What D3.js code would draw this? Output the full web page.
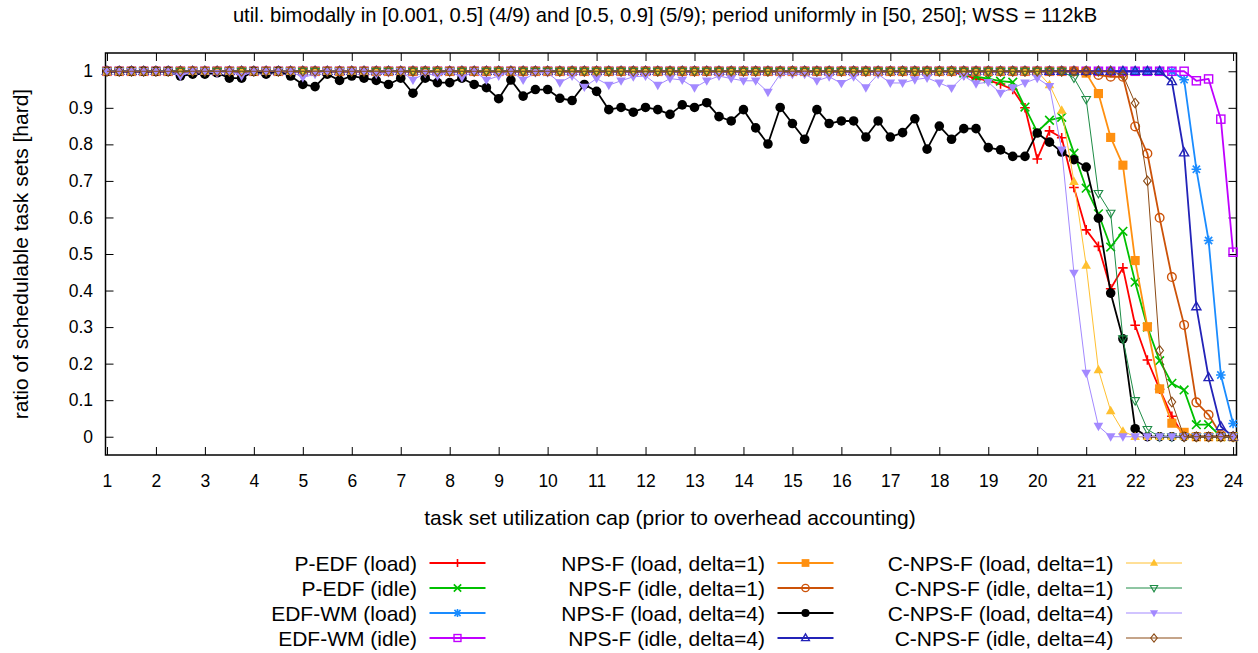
<!DOCTYPE html>
<html><head><meta charset="utf-8">
<script src="https://cdn.jsdelivr.net/npm/d3@7"></script>
<style>
body{margin:0;background:#fff}
svg{display:block}
text{font-family:"Liberation Sans",Arial,Helvetica,sans-serif;fill:#000}
</style>
</head><body>
<svg id="chart" width="1258" height="653"></svg>
<script>
// ---------- data ----------
const titleText = "util. bimodally in [0.001, 0.5] (4/9) and [0.5, 0.9] (5/9); period uniformly in [50, 250]; WSS = 112kB";
const xLabelText = "task set utilization cap (prior to overhead accounting)";
const yLabelText = "ratio of schedulable task sets [hard]";

const xTicks = [1,2,3,4,5,6,7,8,9,10,11,12,13,14,15,16,17,18,19,20,21,22,23,24];
const yTicks = [0,0.1,0.2,0.3,0.4,0.5,0.6,0.7,0.8,0.9,1];

const utilCaps = [
 1,1.25,1.5,1.75,2,2.25,2.5,2.75,3,3.25,
 3.5,3.75,4,4.25,4.5,4.75,5,5.25,5.5,5.75,
 6,6.25,6.5,6.75,7,7.25,7.5,7.75,8,8.25,
 8.5,8.75,9,9.25,9.5,9.75,10,10.25,10.5,10.75,
 11,11.25,11.5,11.75,12,12.25,12.5,12.75,13,13.25,
 13.5,13.75,14,14.25,14.5,14.75,15,15.25,15.5,15.75,
 16,16.25,16.5,16.75,17,17.25,17.5,17.75,18,18.25,
 18.5,18.75,19,19.25,19.5,19.75,20,20.25,20.5,20.75,
 21,21.25,21.5,21.75,22,22.25,22.5,22.75,23,23.25,
 23.5,23.75,24];

const pEdfLoad = [
 1,1,1,1,1,1,1,1,1,1, 1,1,1,1,1,1,1,1,1,1, 1,1,1,1,1,1,1,1,1,1,
 1,1,1,1,1,1,1,1,1,1, 1,1,1,1,1,1,1,1,1,1, 1,1,1,1,1,1,1,1,1,1,
 1,1,1,1,1,1,1,1,1,1,
 0.99,0.98,0.975,0.965,0.95,0.90,0.76,0.837,0.818,0.682,
 0.566,0.521,0.405,0.462,0.305,0.21,0.13,0.056,0,0,
 0,0,0];
const pEdfIdle = [
 1,1,1,1,1,1,1,1,1,1, 1,1,1,1,1,1,1,1,1,1, 1,1,1,1,1,1,1,1,1,1,
 1,1,1,1,1,1,1,1,1,1, 1,1,1,1,1,1,1,1,1,1, 1,1,1,1,1,1,1,1,1,1,
 1,1,1,1,1,1,1,1,1,1,
 0.995,0.985,0.98,0.973,0.97,0.902,0.834,0.866,0.874,0.776,
 0.68,0.61,0.519,0.562,0.423,0.30,0.208,0.146,0.128,0.033,
 0.033,0,0];
const edfWmLoad = [
 1,1,1,1,1,1,1,1,1,1, 1,1,1,1,1,1,1,1,1,1, 1,1,1,1,1,1,1,1,1,1,
 1,1,1,1,1,1,1,1,1,1, 1,1,1,1,1,1,1,1,1,1, 1,1,1,1,1,1,1,1,1,1,
 1,1,1,1,1,1,1,1,1,1, 1,1,1,1,1,1,1,1,1,1,
 1,1,1,1,1,1,1,1,0.977,0.732,
 0.537,0.169,0.036];
const edfWmIdle = [
 1,1,1,1,1,1,1,1,1,1, 1,1,1,1,1,1,1,1,1,1, 1,1,1,1,1,1,1,1,1,1,
 1,1,1,1,1,1,1,1,1,1, 1,1,1,1,1,1,1,1,1,1, 1,1,1,1,1,1,1,1,1,1,
 1,1,1,1,1,1,1,1,1,1, 1,1,1,1,1,1,1,1,1,1,
 1,1,1,1,1,1,1,1,1,0.974,
 0.979,0.869,0.505];
const npsfLoad1 = [
 1,1,1,1,1,1,1,1,1,1, 1,1,1,1,1,1,1,1,1,1, 1,1,1,1,1,1,1,1,1,1,
 1,1,1,1,1,1,1,1,1,1, 1,1,1,1,1,1,1,1,1,1, 1,1,1,1,1,1,1,1,1,1,
 1,1,1,1,1,1,1,1,1,1, 1,1,1,1,1,1,1,1,1,1,
 0.995,0.939,0.819,0.743,0.482,0.301,0.131,0.037,0.012,0,
 0,0,0];
const npsfIdle1 = [
 1,1,1,1,1,1,1,1,1,1, 1,1,1,1,1,1,1,1,1,1, 1,1,1,1,1,1,1,1,1,1,
 1,1,1,1,1,1,1,1,1,1, 1,1,1,1,1,1,1,1,1,1, 1,1,1,1,1,1,1,1,1,1,
 1,1,1,1,1,1,1,1,1,1, 1,1,1,1,1,1,1,1,1,1,
 1,0.99,0.985,0.985,0.849,0.775,0.599,0.437,0.306,0.094,
 0.06,0.005,0];
const npsfLoad4 = [
 1,1,1,1,1,1,0.987,0.992,0.992,0.996,
 0.981,0.981,1,0.992,1,0.987,0.964,0.958,0.992,0.975,
 0.987,0.981,0.975,0.964,0.981,0.94,0.981,0.969,0.969,0.981,
 0.964,0.955,0.925,0.976,0.932,0.95,0.95,0.926,0.92,0.964,
 0.945,0.895,0.901,0.888,0.901,0.895,0.882,0.908,0.901,0.914,
 0.876,0.864,0.895,0.845,0.801,0.901,0.857,0.814,0.895,0.857,
 0.864,0.864,0.82,0.864,0.82,0.832,0.87,0.787,0.85,0.814,
 0.843,0.843,0.791,0.785,0.767,0.767,0.831,0.806,0.779,0.758,
 0.738,0.598,0.393,0.268,0.022,0,0,0,0,0,
 0,0,0];
const npsfIdle4 = [
 1,1,1,1,1,1,1,1,1,1, 1,1,1,1,1,1,1,1,1,1, 1,1,1,1,1,1,1,1,1,1,
 1,1,1,1,1,1,1,1,1,1, 1,1,1,1,1,1,1,1,1,1, 1,1,1,1,1,1,1,1,1,1,
 1,1,1,1,1,1,1,1,1,1, 1,1,1,1,1,1,1,1,1,1,
 1,1,1,1,1,1,1,0.972,0.777,0.356,
 0.162,0.028,0];
const cnpsfLoad1 = [
 1,1,1,1,1,1,1,1,1,1, 1,1,1,1,1,1,1,1,1,1, 1,1,1,1,1,1,1,1,1,1,
 1,1,1,1,1,1,1,1,1,1, 1,1,1,1,1,1,1,1,1,1, 1,1,1,1,1,1,1,1,1,1,
 1,1,1,1,1,1,1,1,1,1,
 1,1,1,1,1,1,1,0.963,0.893,0.698,
 0.469,0.183,0.071,0.015,0,0,0,0,0,0,
 0,0,0];
const cnpsfIdle1 = [
 1,1,1,1,1,1,1,1,1,1, 1,1,1,1,1,1,1,1,1,1, 1,1,1,1,1,1,1,1,1,1,
 1,1,1,1,1,1,1,1,1,1, 1,1,1,1,1,1,1,1,1,1, 1,1,1,1,1,1,1,1,1,1,
 1,1,1,1,1,1,1,1,1,1,
 1,1,1,1,1,1,1,1,1,0.982,
 0.923,0.666,0.612,0.268,0.099,0.02,0,0,0,0,
 0,0,0];
const cnpsfLoad4 = [
 1,1,1,1,1,1,0.987,1,1,0.995,
 1,0.987,1,1,1,1,0.983,0.992,1,1,
 1,1,0.992,0.996,1,0.976,0.995,0.987,1,0.983,
 1,0.976,0.987,1,0.976,0.996,0.996,0.969,0.987,0.957,
 0.98,0.962,0.974,0.985,0.987,0.962,0.98,0.976,0.955,0.974,
 0.987,0.98,0.974,0.974,0.943,0.992,0.992,0.992,0.974,0.985,
 0.967,0.985,0.955,0.992,0.968,0.968,0.977,0.982,0.968,0.954,
 0.987,0.966,0.97,0.94,0.955,0.968,0.981,0.959,0.785,0.448,
 0.174,0.029,0,0,0,0,0,0,0,0,
 0,0,0];
const cnpsfIdle4 = [
 1,1,1,1,1,1,1,1,1,1, 1,1,1,1,1,1,1,1,1,1, 1,1,1,1,1,1,1,1,1,1,
 1,1,1,1,1,1,1,1,1,1, 1,1,1,1,1,1,1,1,1,1, 1,1,1,1,1,1,1,1,1,1,
 1,1,1,1,1,1,1,1,1,1, 1,1,1,1,1,1,1,1,1,1,
 1,1,1,0.99,0.913,0.70,0.236,0.095,0,0,
 0,0,0];

const seriesNames = [
 "P-EDF (load)","P-EDF (idle)","EDF-WM (load)","EDF-WM (idle)",
 "NPS-F (load, delta=1)","NPS-F (idle, delta=1)","NPS-F (load, delta=4)","NPS-F (idle, delta=4)",
 "C-NPS-F (load, delta=1)","C-NPS-F (idle, delta=1)","C-NPS-F (load, delta=4)","C-NPS-F (idle, delta=4)"];
const seriesValues = [pEdfLoad,pEdfIdle,edfWmLoad,edfWmIdle,npsfLoad1,npsfIdle1,npsfLoad4,npsfIdle4,cnpsfLoad1,cnpsfIdle1,cnpsfLoad4,cnpsfIdle4];

// ---------- styles ----------
const styles = [
 {color:"#ff0000", lw:1.8, marker:"plus"},
 {color:"#00c000", lw:1.8, marker:"cross"},
 {color:"#1a8cff", lw:1.8, marker:"star"},
 {color:"#c000ff", lw:1.8, marker:"squareO"},
 {color:"#ff9010", lw:1.8, marker:"squareF"},
 {color:"#cc5208", lw:1.8, marker:"circleO"},
 {color:"#000000", lw:1.8, marker:"circleF"},
 {color:"#2323b8", lw:1.8, marker:"triUpO"},
 {color:"#ffc030", lw:1.0, marker:"triUpF"},
 {color:"#1e8c46", lw:1.0, marker:"triDownO"},
 {color:"#a389ff", lw:1.0, marker:"triDownF"},
 {color:"#8b4a14", lw:1.0, marker:"diamondO"}
];

const FONT_TITLE = 20.2, FONT_TICK = 17.5, FONT_LABEL = 21, FONT_KEY = 21;

const svg = d3.select("#chart");
const L = 105.5, R = 1236.5, T = 53, B = 455;

const x = d3.scaleLinear().domain([0.97, 24.07]).range([L, R]);
const y = d3.scaleLinear().domain([-0.05, 1.05]).range([B, T]);

// title & labels
svg.append("text").attr("x", 665).attr("y", 15).attr("dy","0.36em").attr("text-anchor","middle")
  .style("font-size",FONT_TITLE+"px").text(titleText);
svg.append("text").attr("x", 670).attr("y", 517).attr("dy","0.36em").attr("text-anchor","middle")
  .style("font-size",FONT_LABEL+"px").text(xLabelText);
svg.append("text").attr("transform","translate(20,254) rotate(-90)")
  .attr("text-anchor","middle").attr("dy","0.36em")
  .style("font-size",FONT_LABEL+"px").text(yLabelText);

// axes
const fmtY = d => d === 0 ? "0" : d === 1 ? "1" : d3.format(".1f")(d);
const axB = svg.append("g").attr("transform",`translate(0,${B})`)
  .call(d3.axisBottom(x).tickValues(xTicks).tickSizeInner(-8).tickSizeOuter(0).tickPadding(20).tickFormat(d3.format("d")));
const axT = svg.append("g").attr("transform",`translate(0,${T})`)
  .call(d3.axisTop(x).tickValues(xTicks).tickSizeInner(-8).tickSizeOuter(0).tickFormat(""));
const axL = svg.append("g").attr("transform",`translate(${L},0)`)
  .call(d3.axisLeft(y).tickValues(yTicks).tickSizeInner(-8).tickSizeOuter(0).tickPadding(12.5).tickFormat(fmtY));
const axR = svg.append("g").attr("transform",`translate(${R},0)`)
  .call(d3.axisRight(y).tickValues(yTicks).tickSizeInner(-8).tickSizeOuter(0).tickFormat(""));
[axB,axT,axL,axR].forEach(a=>{
  a.select(".domain").remove();
  a.selectAll(".tick line").attr("stroke","#000").attr("stroke-width",1);
  a.selectAll("text").style("font-size",FONT_TICK+"px").style("font-family","'Liberation Sans',Arial,sans-serif").attr("fill","#000");
});

// frame
svg.append("rect").attr("x",L).attr("y",T).attr("width",R-L).attr("height",B-T)
  .attr("fill","none").attr("stroke","#000").attr("stroke-width",1.5);

// markers
function marker(g, type, cx, cy, color, k) {
  const s = 4.8*k;
  const sw = 1.4;
  switch(type){
    case "plus":
      g.append("path").attr("d",`M${cx-s},${cy}H${cx+s}M${cx},${cy-s}V${cy+s}`).attr("stroke",color).attr("stroke-width",1.6).attr("fill","none"); break;
    case "cross": {
      const c = s*0.9;
      g.append("path").attr("d",`M${cx-c},${cy-c}L${cx+c},${cy+c}M${cx-c},${cy+c}L${cx+c},${cy-c}`).attr("stroke",color).attr("stroke-width",1.6).attr("fill","none"); break; }
    case "star": {
      const c = s*0.75;
      g.append("path").attr("d",`M${cx-s},${cy}H${cx+s}M${cx},${cy-s}V${cy+s}M${cx-c},${cy-c}L${cx+c},${cy+c}M${cx-c},${cy+c}L${cx+c},${cy-c}`).attr("stroke",color).attr("stroke-width",1.6).attr("fill","none"); break; }
    case "squareO": {
      const h = s*0.85;
      g.append("rect").attr("x",cx-h).attr("y",cy-h).attr("width",2*h).attr("height",2*h).attr("fill","none").attr("stroke",color).attr("stroke-width",sw); break; }
    case "squareF": {
      const h = s*0.95;
      g.append("rect").attr("x",cx-h).attr("y",cy-h).attr("width",2*h).attr("height",2*h).attr("fill",color).attr("stroke","none"); break; }
    case "circleO":
      g.append("circle").attr("cx",cx).attr("cy",cy).attr("r",s*0.9).attr("fill","none").attr("stroke",color).attr("stroke-width",sw); break;
    case "circleF":
      g.append("circle").attr("cx",cx).attr("cy",cy).attr("r",s).attr("fill",color); break;
    case "triUpO":
      g.append("path").attr("d",`M${cx},${cy-s}L${cx+s*0.95},${cy+s*0.65}L${cx-s*0.95},${cy+s*0.65}Z`).attr("fill","none").attr("stroke",color).attr("stroke-width",sw); break;
    case "triUpF":
      g.append("path").attr("d",`M${cx},${cy-s*1.05}L${cx+s},${cy+s*0.7}L${cx-s},${cy+s*0.7}Z`).attr("fill",color); break;
    case "triDownO":
      g.append("path").attr("d",`M${cx},${cy+s*0.95}L${cx+s*0.9},${cy-s*0.6}L${cx-s*0.9},${cy-s*0.6}Z`).attr("fill","none").attr("stroke",color).attr("stroke-width",1.1); break;
    case "triDownF":
      g.append("path").attr("d",`M${cx},${cy+s*1.05}L${cx+s},${cy-s*0.7}L${cx-s},${cy-s*0.7}Z`).attr("fill",color); break;
    case "diamondO":
      g.append("path").attr("d",`M${cx},${cy-s}L${cx+s*0.8},${cy}L${cx},${cy+s}L${cx-s*0.8},${cy}Z`).attr("fill","none").attr("stroke",color).attr("stroke-width",1.1); break;
  }
}

// series
const line = d3.line().x(d=>x(d[0])).y(d=>y(d[1]));
const plotG = svg.append("g");
seriesValues.forEach((vals, si) => {
  const st = styles[si];
  const pts = utilCaps.map((u,i)=>[u, vals[i]]);
  const g = plotG.append("g");
  g.append("path").attr("d", line(pts)).attr("fill","none").attr("stroke",st.color)
    .attr("stroke-width",st.lw).attr("stroke-linejoin","round");
  pts.forEach(p => marker(g, st.marker, x(p[0]), y(p[1]), st.color, 1));
});

// legend
const colRight = [417, 765, 1113.5];
const rowY = [563, 588, 613, 638];
const lg = svg.append("g");
seriesNames.forEach((name, i) => {
  const col = Math.floor(i/4), row = i%4;
  const st = styles[i];
  const xr = colRight[col], yy = rowY[row];
  lg.append("text").attr("x", xr).attr("y", yy).attr("dy","0.36em").attr("text-anchor","end")
    .style("font-size",FONT_KEY+"px").text(name);
  lg.append("line").attr("x1", xr+12.5).attr("x2", xr+68.5).attr("y1", yy).attr("y2", yy)
    .attr("stroke", st.color).attr("stroke-width", st.lw);
  marker(lg, st.marker, xr+40.5, yy, st.color, 0.85);
});
</script>
</body></html>
